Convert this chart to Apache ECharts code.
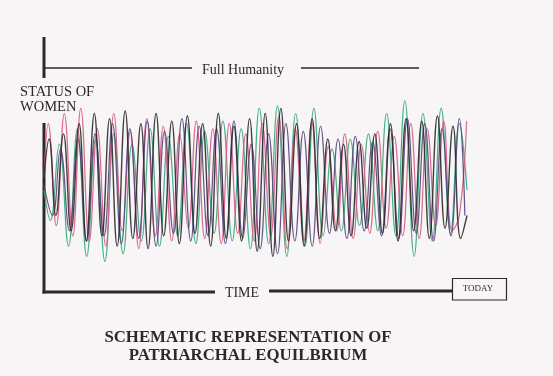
<!DOCTYPE html>
<html>
<head>
<meta charset="utf-8">
<script src="https://cdn.jsdelivr.net/npm/echarts@6/dist/echarts.min.js"></script>
<style>
  html, body { margin: 0; padding: 0; background: #f7f5f6; }
  #chart { width: 553px; height: 376px; }
</style>
</head>
<body>
<div id="chart"></div>
<script>
// time (0 = start, 100 = end of traces) and status values for each pen colour
const blackT = [0, 1.2, 2.8, 4.6, 6.4, 8.3, 10.0, 11.9, 13.7, 15.5, 17.3, 19.2, 21.0, 22.9, 24.6, 26.5, 28.3, 30.2, 32.0, 33.9, 35.7, 37.5, 39.4, 41.2, 43.1, 44.9, 46.7, 48.6, 50.4, 52.3, 54.1, 56.0, 57.8, 59.7, 61.5, 63.4, 65.2, 67.1, 68.9, 70.8, 72.6, 74.5, 76.3, 78.2, 80.0, 81.9, 83.7, 85.6, 87.4, 89.3, 91.1, 93.0, 94.8, 96.7, 98.5, 100];
const blackV = [45, 60, 30, 62, 24, 66, 20, 70, 22, 68, 18, 71, 21, 66, 17, 70, 22, 67, 19, 69, 23, 66, 18, 70, 21, 65, 20, 68, 16, 70, 14, 72, 20, 66, 18, 68, 21, 60, 24, 58, 22, 59, 25, 62, 23, 66, 20, 68, 24, 67, 21, 69, 25, 65, 21, 30];

const pinkT = [0, 1.0, 2.9, 4.8, 6.8, 8.7, 10.7, 12.6, 14.6, 16.5, 18.5, 20.4, 22.4, 24.3, 26.3, 28.2, 30.2, 32.1, 34.1, 36.0, 38.0, 39.9, 41.9, 43.8, 45.8, 47.7, 49.7, 51.6, 53.6, 55.5, 57.5, 59.4, 61.4, 63.3, 65.3, 67.2, 69.2, 71.1, 73.1, 75.0, 77.0, 78.9, 80.9, 82.8, 84.8, 86.7, 88.7, 90.6, 92.6, 94.5, 96.5, 98.2, 99.9];
const pinkV = [45, 66, 26, 70, 22, 72, 20, 64, 18, 70, 24, 63, 17, 68, 22, 65, 20, 62, 25, 67, 21, 64, 19, 66, 23, 62, 20, 66, 22, 69, 17, 64, 20, 67, 19, 57, 24, 62, 21, 58, 23, 63, 25, 61, 22, 66, 21, 64, 26, 67, 24, 30, 67];

const greenT = [0, 1.5, 3.6, 5.8, 7.9, 10.1, 12.2, 14.4, 16.5, 18.7, 20.8, 23.0, 25.1, 27.3, 29.4, 31.6, 33.7, 35.9, 38.0, 40.2, 42.3, 44.5, 46.6, 48.8, 50.9, 53.1, 55.2, 57.4, 59.5, 61.7, 63.8, 66.0, 68.1, 70.3, 72.4, 74.6, 76.7, 78.9, 81.0, 83.2, 85.3, 87.5, 89.6, 91.8, 93.9, 96.1, 98.2, 100];
const greenV = [40, 28, 58, 18, 64, 14, 60, 12, 62, 15, 58, 20, 64, 18, 61, 22, 66, 19, 63, 23, 67, 20, 64, 17, 72, 19, 73, 14, 70, 18, 72, 22, 56, 24, 60, 26, 62, 24, 70, 22, 75, 14, 70, 20, 72, 23, 66, 40];

const purpleT = [0, 2.0, 3.9, 6.0, 8.0, 10.1, 12.1, 14.2, 16.2, 18.3, 20.3, 22.4, 24.4, 26.5, 28.5, 30.6, 32.6, 34.7, 36.7, 38.8, 40.8, 42.9, 44.9, 47.0, 49.0, 51.1, 53.1, 55.2, 57.2, 59.3, 61.3, 63.4, 65.4, 67.5, 69.5, 71.6, 73.6, 75.7, 77.7, 79.8, 81.8, 83.9, 85.9, 88.0, 90.0, 92.1, 94.1, 96.2, 98.2, 99.5];
const purpleV = [42, 30, 56, 24, 60, 20, 62, 22, 66, 19, 64, 21, 67, 18, 63, 23, 68, 20, 65, 22, 64, 19, 67, 21, 58, 17, 62, 15, 66, 20, 63, 18, 65, 23, 60, 21, 61, 24, 59, 22, 64, 21, 68, 23, 66, 20, 64, 22, 68, 30];

const zip = (ts, vs) => ts.map((t, i) => [t, vs[i]]);

const bg = '#f7f5f6';
const ink = '#2e2828';
const serif = '"Liberation Serif", "DejaVu Serif", serif';

const pen = (name, ts, vs, color, width) => ({
  name: name,
  type: 'line',
  data: zip(ts, vs),
  smooth: 0.45,
  symbol: 'none',
  clip: false,
  lineStyle: { color: color, width: width, opacity: 0.9 },
  silent: true
});

const myChart = echarts.init(document.getElementById('chart'));

myChart.setOption({
  backgroundColor: bg,
  animation: false,
  grid: { left: 44, top: 37, width: 423, height: 255 },
  xAxis: { type: 'value', min: 0, max: 100, show: false },
  yAxis: { type: 'value', min: 0, max: 100, show: false },
  series: [
    pen('green', greenT, greenV, '#35a77a', 1.2),
    pen('pink', pinkT, pinkV, '#d65a82', 1.2),
    pen('purple', purpleT, purpleV, '#54427e', 1.2),
    pen('black', blackT, blackV, '#2f2a2c', 1.4)
  ],
  graphic: [
    // status axis, broken for its label
    { type: 'line', shape: { x1: 44, y1: 37, x2: 44, y2: 78 }, style: { stroke: ink, lineWidth: 3 } },
    { type: 'line', shape: { x1: 44, y1: 123, x2: 44, y2: 293.5 }, style: { stroke: ink, lineWidth: 3 } },
    // time axis, broken for its label
    { type: 'line', shape: { x1: 42.5, y1: 292, x2: 215, y2: 292 }, style: { stroke: ink, lineWidth: 3 } },
    { type: 'line', shape: { x1: 269, y1: 291, x2: 452, y2: 291 }, style: { stroke: ink, lineWidth: 3 } },
    // full humanity line
    { type: 'line', shape: { x1: 45, y1: 68, x2: 192, y2: 68 }, style: { stroke: ink, lineWidth: 1.5 } },
    { type: 'line', shape: { x1: 301, y1: 68, x2: 419, y2: 68 }, style: { stroke: ink, lineWidth: 1.5 } },
    { type: 'text', x: 243, y: 70, style: { text: 'Full Humanity', font: '14px ' + serif, fill: ink, align: 'center', verticalAlign: 'middle' } },
    { type: 'text', x: 20, y: 92, style: { text: 'STATUS OF', font: '14.5px ' + serif, fill: ink, align: 'left', verticalAlign: 'middle' } },
    { type: 'text', x: 20, y: 107, style: { text: 'WOMEN', font: '14.5px ' + serif, fill: ink, align: 'left', verticalAlign: 'middle' } },
    { type: 'text', x: 242, y: 293, style: { text: 'TIME', font: '14px ' + serif, fill: ink, align: 'center', verticalAlign: 'middle' } },
    // today box
    { type: 'rect', shape: { x: 452.5, y: 278.5, width: 54, height: 21.5 }, style: { fill: 'none', stroke: ink, lineWidth: 1.2 } },
    { type: 'text', x: 478, y: 289, style: { text: 'TODAY', font: '9px ' + serif, fill: ink, align: 'center', verticalAlign: 'middle' } },
    // title
    { type: 'text', x: 248, y: 338, style: { text: 'SCHEMATIC REPRESENTATION OF', font: 'bold 16.8px ' + serif, fill: ink, align: 'center', verticalAlign: 'middle' } },
    { type: 'text', x: 248, y: 356, style: { text: 'PATRIARCHAL EQUILBRIUM', font: 'bold 16.8px ' + serif, fill: ink, align: 'center', verticalAlign: 'middle' } }
  ]
});

window.addEventListener('resize', () => {
  myChart.resize();
});
</script>
</body>
</html>
